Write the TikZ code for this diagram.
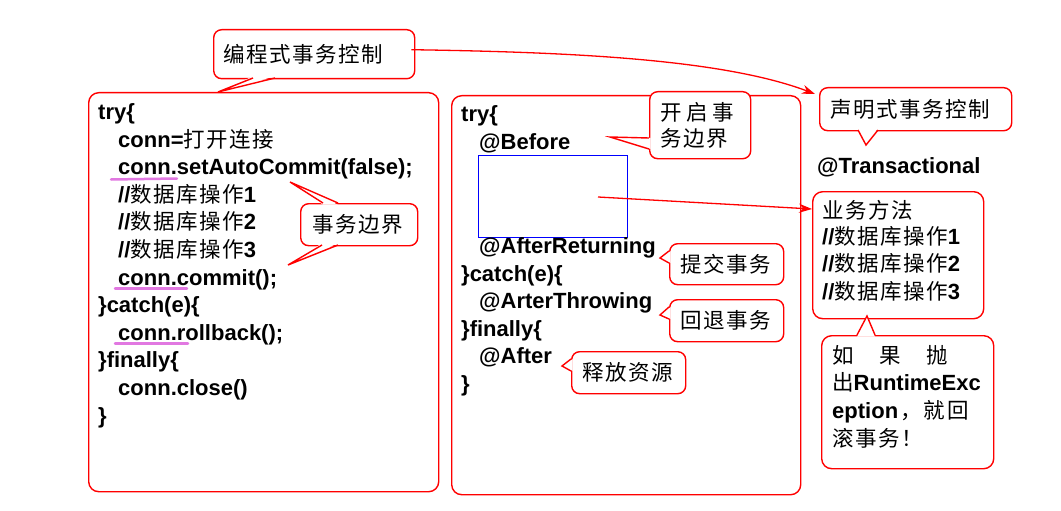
\documentclass[tikz,border=0pt]{standalone}
\usepackage{fontspec}
\setmainfont{Liberation Sans}
\newfontfamily\cjk[LetterSpace=7]{Noto Sans CJK SC}
\usetikzlibrary{arrows.meta}
\definecolor{ulpink}{RGB}{225,120,225}
\newcommand\zhtxt[1]{{\cjk\mdseries\fontsize{21.5}{26}\selectfont #1}}
\begin{document}
\begin{tikzpicture}[x=1pt,y=-1pt,
  box/.style={draw=red, line width=1.4pt, rounded corners=10pt, inner sep=0pt, anchor=north west},
  code/.style={anchor=base west, inner sep=0pt, font=\bfseries\fontsize{22}{26}\selectfont},
  zhline/.style={anchor=base west, inner sep=0pt, font=\cjk\fontsize{21.5}{26}\selectfont},
  callout/.style={draw=red, fill=white, line width=1.4pt, rounded corners=8pt, inner ysep=0pt, anchor=north west, font=\cjk\fontsize{21.5}{26}\selectfont},
  tailline/.style={draw=red, line width=1.4pt, line join=miter},
  arr/.style={draw=red, line width=1.3pt, -{Stealth[length=13pt,width=9pt]}},
  ul/.style={draw=ulpink, line width=2.5pt, line cap=round}
]
\useasboundingbox (0,0) rectangle (1061,511);

% main boxes
\node[box, minimum width=350pt, minimum height=399pt] (lbox) at (88,92) {};
\node[box, minimum width=349pt, minimum height=399pt] (mbox) at (451,95) {};
\node[draw=blue, line width=1.3pt, anchor=north west, minimum width=149pt, minimum height=82pt, inner sep=0pt] (blue) at (478,155) {};
\node[box, minimum width=171pt, minimum height=127pt] (b1) at (812,191) {};
\node[box, minimum width=172pt, minimum height=133pt] (b2) at (821,335) {};

% left code
\node[code] (l1) at (98,119.5) {try\{};
\node[code] (l2) at (118,147) {conn=\zhtxt{打开连接}};
\node[code] (l3) at (118,174.7) {conn.setAutoCommit(false);};
\node[code] (l4) at (118,202.3) {//\zhtxt{数据库操作}1};
\node[code] (l5) at (118,229.9) {//\zhtxt{数据库操作}2};
\node[code] (l6) at (118,257.5) {//\zhtxt{数据库操作}3};
\node[code] (l7) at (118,285.1) {conn.commit();};
\node[code] (l8) at (98,312.7) {\}catch(e)\{};
\node[code] (l9) at (118,340.3) {conn.rollback();};
\node[code] (l10) at (98,367.9) {\}finally\{};
\node[code] (l11) at (118,395.5) {conn.close()};
\node[code] (l12) at (98,423.1) {\}};

% middle code
\node[code] (m1) at (461,121.5) {try\{};
\node[code] (m2) at (479,149.5) {@Before};
\node[code] (m3) at (479,253.5) {@AfterReturning};
\node[code] (m4) at (461,281) {\}catch(e)\{};
\node[code] (m5) at (479,308.5) {@ArterThrowing};
\node[code] (m6) at (461,336) {\}finally\{};
\node[code] (m7) at (479,363.5) {@After};
\node[code] (m8) at (461,391) {\}};

% right side
\node[code] (tr) at (817,173.5) {@Transactional};
\node[zhline] (r1) at (822,218) {业务方法};
\node[code] (r2) at (822,244) {//\zhtxt{数据库操作}1};
\node[code] (r3) at (822,271.5) {//\zhtxt{数据库操作}2};
\node[code] (r4) at (822,299) {//\zhtxt{数据库操作}3};
\node[zhline] (e1) at (832,363) {\makebox[116pt][l]{如\hfill 果\hfill 抛}};
\node[code] (e2) at (832,390.5) {\zhtxt{出}RuntimeExc};
\node[code] (e3) at (832,418) {eption\zhtxt{\hspace{2pt}，就\hspace{3pt}回}};
\node[zhline] (e4) at (832,446) {滚事务！};

% callouts
\node[callout, inner xsep=10pt, minimum height=49pt] (c1) at (213,29) {\makebox[181pt][l]{编程式事务控制}};
\node[callout, inner xsep=11pt, minimum height=43pt] (c2) at (819,87) {\makebox[170pt][l]{声明式事务控制}};
\node[callout, inner xsep=11pt, minimum height=67pt, text width=79pt, align=left] (c3) at (649,91) {\makebox[73pt][l]{开\hfill 启\hfill 事}\\务边界};
\node[callout, inner xsep=11pt, minimum height=41pt] (c4) at (669,243) {\makebox[92pt][l]{提交事务}};
\node[callout, inner xsep=11pt, minimum height=42pt] (c5) at (669,299) {\makebox[92pt][l]{回退事务}};
\node[callout, inner xsep=11pt, minimum height=42pt] (c6) at (571,351) {\makebox[92pt][l]{释放资源}};
\node[callout, inner xsep=12pt, minimum height=42pt] (c7) at (300,203) {\makebox[93pt][l]{事务边界}};

% tails
\fill[white] (253,76.3) -- (218,92) -- (275,76.3) -- cycle;
\draw[tailline] (253,78) -- (218,92) -- (275,78);
\fill[white] (858,128.3) -- (866,145) -- (878,128.3) -- cycle;
\draw[tailline] (858,130) -- (866,145) -- (878,130);
\fill[white] (650.7,138) -- (610,137) -- (650.7,149) -- cycle;
\draw[tailline] (649,138) -- (610,137) -- (649,149);
\fill[white] (670.7,251) -- (660,258) -- (670.7,263) -- cycle;
\draw[tailline] (669,251) -- (660,258) -- (669,263);
\fill[white] (670.7,307) -- (660,315) -- (670.7,319) -- cycle;
\draw[tailline] (669,307) -- (660,315) -- (669,319);
\fill[white] (572.7,359) -- (562,366) -- (572.7,371) -- cycle;
\draw[tailline] (571,359) -- (562,366) -- (571,371);
\fill[white] (323,204.7) -- (290,182) -- (338,204.7) -- cycle;
\draw[tailline] (323,203) -- (290,182) -- (338,203);
\fill[white] (322,243.3) -- (288,265) -- (338,243.3) -- cycle;
\draw[tailline] (322,245) -- (288,265) -- (338,245);
\fill[white] (857,336.7) -- (867,316) -- (875,336.7) -- cycle;
\draw[tailline] (857,335) -- (867,316) -- (875,335);

% connectors
\coordinate (bstart) at (598,197);
\coordinate (b1pt) at (812,209);
\draw[arr] (bstart) -- (b1pt);
\draw[arr] ([xshift=-4pt,yshift=4.5pt]c1.east) .. controls (560,52) and (720,58) .. ([xshift=-4pt,yshift=-7pt]c2.north west);

% underlines
\draw[ul] (111,179.5) -- (177,178.5);
\draw[ul] (115,288.5) -- (187,288.5);
\draw[ul] (115,343.5) -- (188,343.5);
\end{tikzpicture}
\end{document}
